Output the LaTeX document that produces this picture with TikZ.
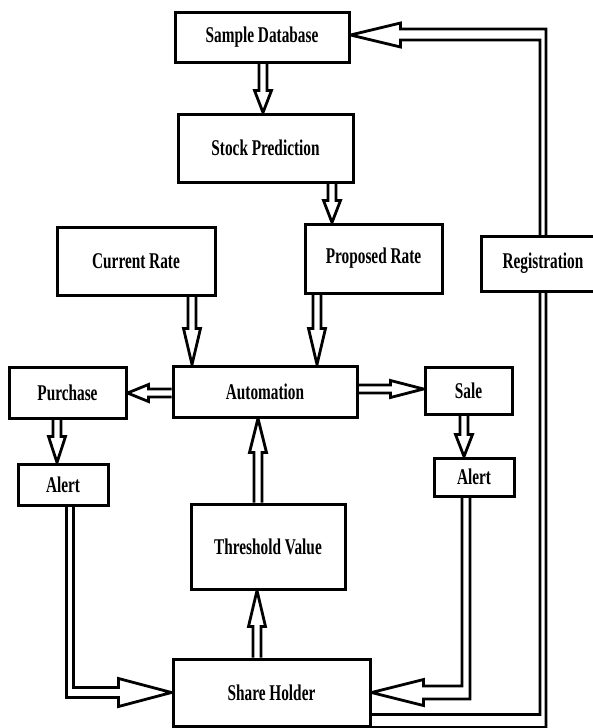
\documentclass[tikz,border=0pt]{standalone}
\usepackage{fontspec}
\setmainfont[FakeStretch=0.68]{Liberation Serif}
\usetikzlibrary{calc,backgrounds}
\tikzset{
  box/.style={draw, line width=3pt, fill=white, inner sep=0pt,
    font=\fontsize{22.5}{25}\selectfont\bfseries},
  barrow/.style={draw, line width=2.8pt, line join=miter},
}
\def\bsw{4pt}\def\bhw{8.5pt}
\newcommand\arrD[3][24pt]{\draw[barrow] let \p1=(#2), \p2=(#3) in
  (\x1-\bsw,\y1) -- (\x1-\bsw,\y2+#1) -- (\x1-\bhw,\y2+#1) -- (\x1,\y2)
  -- (\x1+\bhw,\y2+#1) -- (\x1+\bsw,\y2+#1) -- (\x1+\bsw,\y1);}
\newcommand\arrU[3][24pt]{\draw[barrow] let \p1=(#2), \p2=(#3) in
  (\x1-\bsw,\y1) -- (\x1-\bsw,\y2-#1) -- (\x1-\bhw,\y2-#1) -- (\x1,\y2)
  -- (\x1+\bhw,\y2-#1) -- (\x1+\bsw,\y2-#1) -- (\x1+\bsw,\y1);}
\newcommand\arrL[3][24pt]{\draw[barrow] let \p1=(#2), \p2=(#3) in
  (\x1,\y1+\bsw) -- (\x2+#1,\y1+\bsw) -- (\x2+#1,\y1+\bhw) -- (\x2,\y1)
  -- (\x2+#1,\y1-\bhw) -- (\x2+#1,\y1-\bsw) -- (\x1,\y1-\bsw);}
\newcommand\arrR[3][24pt]{\draw[barrow] let \p1=(#2), \p2=(#3) in
  (\x1,\y1+\bsw) -- (\x2-#1,\y1+\bsw) -- (\x2-#1,\y1+\bhw) -- (\x2,\y1)
  -- (\x2-#1,\y1-\bhw) -- (\x2-#1,\y1-\bsw) -- (\x1,\y1-\bsw);}
\begin{document}
\begin{tikzpicture}[x=1pt,y=-1pt]
\useasboundingbox (0,0) rectangle (592,728);
% nodes
\node[box, minimum width=174pt, minimum height=50pt] (sd) at (262,37) {Sample Database};
\node[box, minimum width=175pt, minimum height=68pt] (sp) at (265.5,148) {Stock Prediction};
\node[box, minimum width=158pt, minimum height=68pt] (cr) at (136,261) {Current Rate};
\node[box, minimum width=137pt, minimum height=69pt] (pr) at (373.5,258.5) {Proposed Rate};
\node[box, minimum width=124pt, minimum height=55pt] (reg) at (543,263.5) {Registration};
\node[box, minimum width=117pt, minimum height=51pt] (pu) at (67.5,392.5) {Purchase};
\node[box, minimum width=184pt, minimum height=51pt] (au) at (265,391.5) {Automation};
\node[box, minimum width=87pt, minimum height=47pt] (sa) at (468.5,390.5) {Sale};
\node[box, minimum width=90pt, minimum height=41pt] (al) at (63,484.5) {Alert};
\node[box, minimum width=80pt, minimum height=38pt] (ar) at (474,477) {Alert};
\node[box, minimum width=154pt, minimum height=85pt] (tv) at (268,546.5) {Threshold Value};
\node[box, minimum width=197pt, minimum height=67pt] (sh) at (271.5,692.5) {Share Holder};
% connectors
\begin{scope}[on background layer]
\arrD[22pt]{[xshift=1pt]sd.south}{sp.north}
\arrD[22pt]{[xshift=66.5pt]sp.south}{pr.north}
\arrD[36pt]{[xshift=56pt]cr.south}{au.north}
\arrD[36pt]{[xshift=-56.5pt]pr.south}{au.north}
\arrL[21pt]{[yshift=-1.5pt]au.west}{pu.east}
\arrR[33pt]{[yshift=2.5pt]au.east}{sa.west}
\arrD[26pt]{[xshift=-10.5pt]pu.south}{al.north}
\arrD[22pt]{[xshift=-4.5pt]sa.south}{ar.north}
\arrU[34pt]{[xshift=-10pt]tv.north}{au.south}
\arrU[36pt]{[xshift=-14.5pt]sh.north}{tv.south}
% Alert (left) -> Share Holder
\draw[barrow] let \p1=([xshift=7pt]al.south), \p2=(sh.west) in
  (\x1+3.5pt,\y1) -- (\x1+3.5pt,\y2+5pt) -- (\x2-53pt,\y2+5pt) -- (\x2-53pt,\y2+14pt)
  -- (\x2,\y2) -- (\x2-53pt,\y2-14pt) -- (\x2-53pt,\y2-5pt) -- (\x1-3.5pt,\y2-5pt)
  -- (\x1-3.5pt,\y1);
% Alert (right) -> Share Holder
\draw[barrow] let \p1=([xshift=-8pt]ar.south), \p2=(sh.east) in
  (\x1-4pt,\y1) -- (\x1-4pt,\y2+6.5pt) -- (\x2+52pt,\y2+6.5pt) -- (\x2+52pt,\y2+13pt)
  -- (\x2,\y2) -- (\x2+52pt,\y2-13pt) -- (\x2+52pt,\y2-6.5pt) -- (\x1+4pt,\y2-6.5pt)
  -- (\x1+4pt,\y1);
% Share Holder -> (Registration) -> Sample Database
\draw[barrow] let \p1=(sh.south east), \p2=([yshift=2pt]sd.east), \p3=(reg.center) in
  (\x1,\y1+13pt) -- (\x3-3pt,\y1+13pt) -- (\x3-3pt,\y2-5pt) -- (\x2+50pt,\y2-5pt)
  -- (\x2+50pt,\y2-12pt) -- (\x2,\y2) -- (\x2+50pt,\y2+12pt) -- (\x2+50pt,\y2+6pt)
  -- (\x3+3pt,\y2+6pt) -- (\x3+3pt,\y1) -- (\x1,\y1);
\end{scope}
\end{tikzpicture}
\end{document}
